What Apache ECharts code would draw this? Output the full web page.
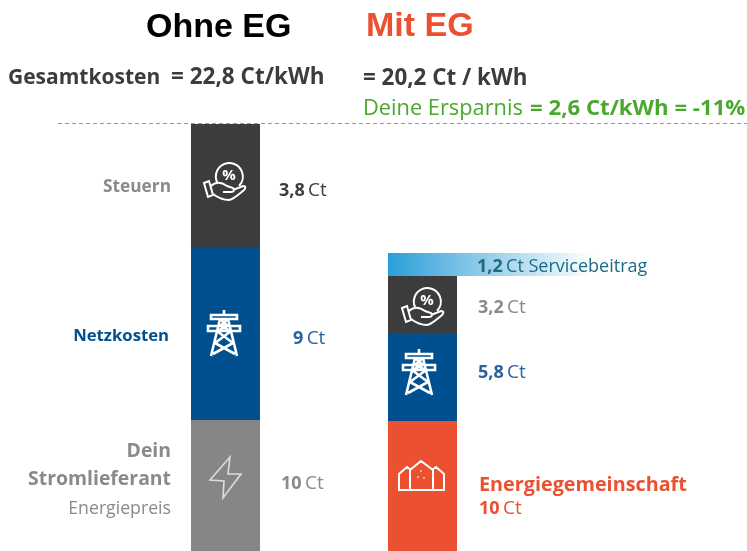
<!DOCTYPE html>
<html>
<head>
<meta charset="utf-8">
<title>Ohne EG / Mit EG</title>
<script src="https://cdn.jsdelivr.net/npm/echarts@6/dist/echarts.min.js"></script>
<style>
  html, body { margin: 0; padding: 0; background: #fff; }
  #chart { width: 747px; height: 551px; }
</style>
</head>
<body>
<div id="chart"></div>
<script>
const categories = ['Ohne EG', 'Mit EG'];

// drawn heights of the segments, the original is not to scale with its Ct labels
const energyHeights = [131, 130];
const gridHeights = [173, 88];
const taxHeights = [123, 57];
const serviceHeights = [null, 23];

const energyLabels = ['10', '10'];
const gridLabels = ['9', '5,8'];
const taxLabels = ['3,8', '3,2'];
const serviceLabels = [null, '1,2'];

const FONT = '"Open Sans", sans-serif';
const DARK = '#3c3c3c';
const GREY = '#8a8a8a';
const BLUE = '#00508f';
const ORANGE = '#eb5030';
const GREEN = '#4aa82e';

function valueLabel(text, color, offset) {
  return {
    show: true,
    position: 'right',
    distance: 0,
    offset: offset,
    formatter: '{b|' + text + '} {n|Ct}',
    rich: {
      b: { fontFamily: FONT, fontWeight: 700, fontSize: 18, color: color },
      n: { fontFamily: FONT, fontSize: 19, color: color }
    }
  };
}

function text(x, y, str, color, size, weight, align, family) {
  return {
    type: 'text',
    x: x,
    y: y,
    z: 100,
    silent: true,
    style: {
      text: str,
      fill: color,
      fontSize: size,
      fontWeight: weight || 400,
      fontFamily: family || FONT,
      textAlign: align || 'left',
      textVerticalAlign: 'middle'
    }
  };
}

// the graphic component has no plain path type, so the icons are registered as shapes
function registerIcon(name, d) {
  echarts.graphic.registerShape(name, echarts.graphic.extendPath(d, {}));
}

function icon(name, x, y, lineWidth, stroke) {
  return {
    type: name,
    x: x,
    y: y,
    z: 100,
    silent: true,
    style: { fill: 'none', stroke: stroke || '#fff', lineWidth: lineWidth || 2 }
  };
}

registerIcon('hand',
  'M15 20 A13.5 13.5 0 1 1 37 24 ' +
  'M2 21 L7 19 L11 33 L6 35 Z ' +
  'M9 24 C14 19 19 20 25 24 L31 26 C33 28 32 30 29 30 L21 30 ' +
  'M31 28 L41 24 C44 24 44 26 42 28 C36 33 32 37 27 38 C21 38 15 35 11 32');
registerIcon('pylon',
  'M16 0 L16 5 M3 5 L29 5 L29 9 L3 9 Z M0 16 L32 16 L32 21 L0 21 Z ' +
  'M12 9 L3 46 M20 9 L29 46 M12 9 L20 16 L9 21 L25 33 L5 44 M20 9 L12 16 L23 21 L7 33 L27 44');
registerIcon('bolt', 'M20 0 L0 23 L14 24 L13 41 L31 17 L18 17 Z');
registerIcon('houses',
  'M12 30 L1 30 L1 14 L9 7 L13 10 M35 30 L46 30 L46 14 L38 7 L34 10 ' +
  'M12 30 L12 10 L23 1 L35 10 L35 30 Z ' +
  'M22.5 11 L23.5 11 M19.5 17 L20.5 17 M25.5 18 L26.5 18');

const serviceRenderer = function (params, api) {
  const i = api.value(0);
  const base = taxHeights[i] + gridHeights[i] + energyHeights[i];
  const bottom = api.coord([i, base]);
  const top = api.coord([i, base + api.value(1)]);
  const left = bottom[0] - 34.5;
  return {
    type: 'group',
    children: [
      {
        type: 'rect',
        shape: { x: left, y: top[1], width: 205, height: bottom[1] - top[1] },
        style: {
          fill: new echarts.graphic.LinearGradient(0, 0, 1, 0, [
            { offset: 0, color: '#2a9ed8' },
            { offset: 0.45, color: '#8fcbe8' },
            { offset: 1, color: '#ffffff' }
          ])
        }
      },
      {
        type: 'text',
        x: left + 89,
        y: (top[1] + bottom[1]) / 2 + 2,
        style: {
          text: '{b|' + serviceLabels[i] + '} {n|Ct Servicebeitrag}',
          textVerticalAlign: 'middle',
          rich: {
            b: { fontFamily: FONT, fontWeight: 700, fontSize: 18, fill: '#1c6a84' },
            n: { fontFamily: FONT, fontSize: 18, fill: '#1c6a84' }
          }
        }
      }
    ]
  };
};

const chart = echarts.init(document.getElementById('chart'));
chart.setOption({
  animation: false,
  grid: { left: 127, right: 226, top: 124, bottom: 0 },
  xAxis: { type: 'category', data: categories, show: false },
  yAxis: { type: 'value', min: 0, max: 427, show: false },
  series: [
    {
      name: 'Energie',
      type: 'bar',
      stack: 'kosten',
      barWidth: 69,
      data: [
        { value: energyHeights[0], itemStyle: { color: '#868686' }, label: valueLabel(energyLabels[0], GREY, [21, -2]) },
        {
          value: energyHeights[1],
          itemStyle: { color: ORANGE },
          label: {
            show: true,
            position: 'right',
            distance: 0,
            offset: [22, 11],
            lineHeight: 24,
            formatter: '{t|Energiegemeinschaft}\n{b|' + energyLabels[1] + '} {n|Ct}',
            rich: {
              t: { fontFamily: FONT, fontWeight: 700, fontSize: 19.8, color: ORANGE },
              b: { fontFamily: FONT, fontWeight: 700, fontSize: 18, color: ORANGE },
              n: { fontFamily: FONT, fontSize: 19, color: ORANGE }
            }
          }
        }
      ]
    },
    {
      name: 'Netzkosten',
      type: 'bar',
      stack: 'kosten',
      itemStyle: { color: BLUE },
      data: [
        { value: gridHeights[0], label: valueLabel(gridLabels[0], '#2a62a0', [33, 5]) },
        { value: gridHeights[1], label: valueLabel(gridLabels[1], '#2a62a0', [21, -4]) }
      ]
    },
    {
      name: 'Steuern',
      type: 'bar',
      stack: 'kosten',
      itemStyle: { color: DARK },
      data: [
        { value: taxHeights[0], label: valueLabel(taxLabels[0], DARK, [19, 5]) },
        { value: taxHeights[1], label: valueLabel(taxLabels[1], GREY, [21, 3]) }
      ]
    },
    {
      name: 'Servicebeitrag',
      type: 'custom',
      renderItem: serviceRenderer,
      data: serviceHeights.map(function (v, i) { return [i, v]; }).filter(function (d) { return d[1] !== null; })
    }
  ],
  graphic: [
    text(146, 28, 'Ohne EG', '#000', 34, 700, 'left', '"Liberation Sans", sans-serif'),
    text(366, 27, 'Mit EG', ORANGE, 34, 700, 'left', '"Liberation Sans", sans-serif'),
    text(8, 78, 'Gesamtkosten', DARK, 21, 700),
    text(171, 78, '= 22,8 Ct/kWh', DARK, 22.5, 700),
    text(363, 79, '= 20,2 Ct / kWh', DARK, 22.4, 700),
    text(363, 109, 'Deine Ersparnis', GREEN, 21.8, 400),
    text(530, 109, '= 2,6 Ct/kWh = -11%', GREEN, 22.2, 700),
    {
      type: 'line',
      silent: true,
      shape: { x1: 58, y1: 123.5, x2: 747, y2: 123.5 },
      style: { stroke: '#999', lineWidth: 1, lineDash: [4, 3] }
    },
    text(171, 187, 'Steuern', GREY, 17.3, 700, 'right'),
    text(169, 336, 'Netzkosten', BLUE, 16.7, 700, 'right'),
    text(171, 451, 'Dein', GREY, 19.4, 700, 'right'),
    text(171, 479, 'Stromlieferant', GREY, 19.4, 700, 'right'),
    text(171, 509, 'Energiepreis', GREY, 17.7, 400, 'right'),
    icon('hand', 202, 162),
    text(229, 176, '%', '#fff', 15, 700, 'center'),
    icon('hand', 400, 287),
    text(427, 301, '%', '#fff', 15, 700, 'center'),
    icon('pylon', 208, 310, 2.6),
    icon('pylon', 403, 349, 2.6),
    icon('bolt', 210, 457, 1.6, '#dddddd'),
    icon('houses', 398, 460)
  ]
});
</script>
</body>
</html>
